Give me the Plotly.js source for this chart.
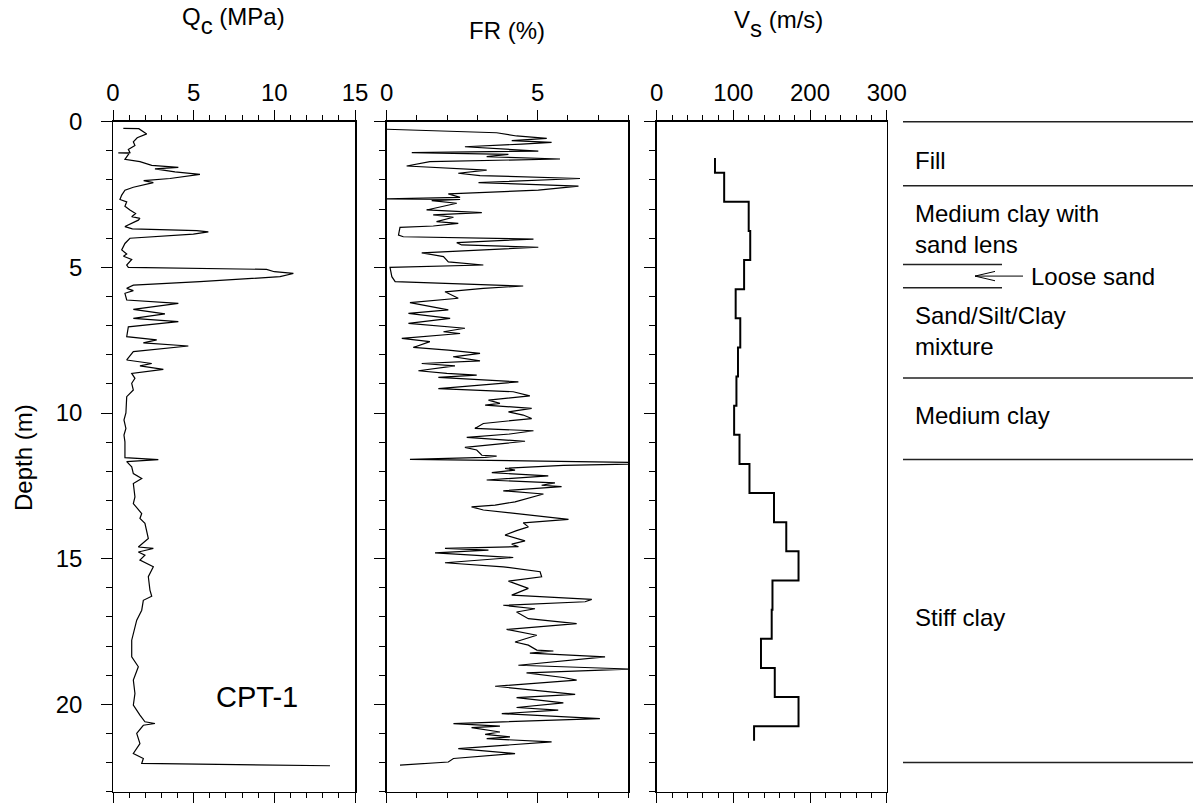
<!DOCTYPE html>
<html><head><meta charset="utf-8">
<script src="https://cdn.plot.ly/plotly-3.0.1.min.js"></script>
<style>html,body{margin:0;padding:0;background:#fff}</style>
</head><body><div id="chart" style="width:1193px;height:805px"></div>
<script>
// ---- Cone resistance Qc (MPa) vs depth (m)
const qcDepth = [0.23,0.24,0.42,0.55,0.69,0.82,0.95,1.06,1.07,1.09,1.29,1.37,1.50,1.57,1.62,1.72,1.81,1.95,2.02,2.09,2.25,2.35,2.52,2.67,2.75,2.90,3.03,3.15,3.26,3.32,3.38,3.60,3.68,3.74,3.78,3.86,4.00,4.18,4.40,4.54,4.62,4.73,4.92,5.00,5.07,5.15,5.21,5.32,5.49,5.61,5.72,5.80,5.89,6.12,6.24,6.44,6.60,6.75,6.86,7.04,7.38,7.49,7.59,7.70,7.89,8.18,8.30,8.38,8.50,8.64,8.81,8.98,9.21,9.44,10.00,10.24,10.53,10.76,10.99,11.53,11.60,11.67,11.85,12.08,12.25,12.42,12.88,13.11,13.45,13.62,13.79,14.14,14.31,14.60,14.65,14.77,14.88,15.05,15.28,15.62,16.08,16.29,16.43,16.77,17.11,17.80,18.37,18.71,19.17,19.63,20.03,20.37,20.60,20.66,20.72,21.00,21.35,21.69,21.86,22.03,22.11];
const qcValue = [0.64,1.60,2.09,1.50,1.26,1.36,0.95,1.05,0.33,1.00,0.74,1.67,2.40,4.05,2.60,3.84,5.39,3.53,1.90,2.50,1.26,0.74,0.54,0.43,0.85,0.74,1.05,1.40,1.16,1.67,1.57,0.74,1.20,5.19,5.91,4.98,1.05,0.74,0.54,0.85,0.65,1.16,0.85,0.95,9.52,10.00,11.18,10.35,5.39,1.26,0.85,1.26,0.74,0.85,4.05,1.26,3.22,1.26,4.05,0.95,0.85,2.71,1.88,4.67,1.26,0.85,2.40,1.67,3.12,1.16,1.36,1.16,1.26,0.85,0.80,0.68,0.80,0.68,0.74,0.74,2.81,0.85,1.16,1.26,1.78,1.26,1.36,1.26,1.78,1.67,1.98,2.09,2.19,1.57,2.50,1.57,1.98,1.67,2.50,2.19,2.29,2.40,1.88,1.78,1.47,1.16,1.16,1.57,1.26,1.36,1.26,1.67,1.98,2.60,1.88,1.47,1.67,1.26,1.88,1.78,13.45];

// ---- Friction ratio FR (%) vs depth (m)
const frDepth = [0.26,0.38,0.49,0.57,0.65,0.71,0.77,0.86,1.01,1.06,1.12,1.20,1.28,1.37,1.52,1.60,1.66,1.77,1.85,1.95,2.09,2.21,2.35,2.48,2.60,2.65,2.67,2.71,2.80,3.03,3.12,3.20,3.28,3.43,3.49,3.58,3.63,3.89,3.95,4.03,4.15,4.23,4.31,4.50,4.63,4.81,4.92,5.00,5.32,5.49,5.64,5.72,5.84,6.06,6.21,6.46,6.58,6.75,6.92,7.09,7.21,7.27,7.44,7.55,7.75,7.84,7.95,8.07,8.21,8.30,8.38,8.55,8.64,8.70,8.78,8.93,9.16,9.27,9.41,9.56,9.67,9.73,9.84,9.96,10.07,10.19,10.36,10.53,10.61,10.72,10.84,10.97,11.18,11.27,11.45,11.48,11.52,11.59,11.72,11.80,11.90,11.96,12.05,12.16,12.30,12.40,12.48,12.53,12.67,12.78,13.05,13.16,13.22,13.33,13.47,13.65,13.77,13.91,14.04,14.19,14.39,14.50,14.59,14.65,14.71,14.80,14.96,15.14,15.28,15.45,15.62,15.77,16.02,16.25,16.40,16.48,16.60,16.72,16.83,17.06,17.23,17.43,17.63,17.86,17.97,18.14,18.17,18.24,18.37,18.66,18.79,18.92,19.08,19.17,19.38,19.66,19.77,19.95,20.11,20.20,20.32,20.49,20.66,20.75,20.80,20.95,21.03,21.12,21.18,21.29,21.52,21.69,21.86,21.98,22.09];
const frValue = [0.00,3.64,4.30,5.30,4.14,5.46,4.47,2.59,5.02,0.83,4.03,3.31,5.74,1.43,0.66,2.04,3.31,2.37,3.09,6.40,3.04,6.35,5.02,2.04,2.43,0.00,2.43,1.49,2.32,1.32,3.15,1.54,2.21,1.65,2.37,1.54,0.44,0.39,0.55,4.86,2.32,2.48,5.02,1.16,1.88,2.04,3.20,0.11,0.17,0.28,4.52,3.20,1.93,2.37,0.77,2.04,0.72,2.10,0.72,2.59,1.88,2.43,0.50,1.43,0.88,2.04,3.09,2.20,3.09,1.16,2.26,1.05,1.99,2.98,1.71,4.36,1.71,4.19,4.74,3.37,3.75,3.26,4.80,4.03,4.52,4.80,3.20,2.92,4.86,4.08,2.65,4.58,2.59,2.98,3.15,3.64,3.26,0.77,10.00,5.85,3.92,4.25,3.48,5.35,3.31,5.57,5.13,5.79,3.86,5.19,4.25,3.59,2.81,3.20,4.36,6.02,4.52,4.69,4.30,3.92,4.58,4.14,4.36,1.93,3.37,1.60,4.19,1.93,3.86,5.08,5.13,4.03,4.69,4.14,6.79,6.57,3.86,4.91,4.30,4.69,6.29,3.97,4.97,4.25,4.69,4.97,5.52,4.74,7.23,4.36,8.10,4.63,5.85,6.29,3.59,6.24,4.30,5.85,4.30,5.68,3.81,7.06,2.21,3.75,2.81,3.75,3.26,4.08,3.31,5.46,2.37,4.25,2.21,2.04,0.44];

// ---- Shear wave velocity Vs (m/s): layer top depths (m) and velocities
const vsDepth = [1.25,1.75,2.75,3.75,4.75,5.75,6.75,7.75,8.75,9.75,10.75,11.75,12.75,13.75,14.75,15.75,16.75,17.75,18.75,19.75,20.75,21.25];
const vsValue = [76,88,120,122,114,103,109,106,104,101,108,121,153,169,185,151,150,136,154,185,127];

// ---- Soil layers
const layerNames = ["Fill","Medium clay with<br>sand lens","Loose sand","Sand/Silt/Clay<br>mixture","Medium clay","Stiff clay"];
const layerTop = [0,2.2,4.9,5.7,8.8,11.6];
const layerBottom = [2.2,4.9,5.7,8.8,11.6,22.0];

const probeName = "CPT-1";
const depthRange = [23,0];

// ---- build
const W=1193, H=805;
const px = v => v/W, py = v => 1 - v/H;
const FONT = 'Arial, "Liberation Sans", sans-serif';
const FS = 24;
const yTopPx = 121.7, yBotPx = 791.7;
const yDom = [py(yBotPx), py(yTopPx)];
const pxPerM = (yBotPx - yTopPx)/(depthRange[0]-depthRange[1]);

const vsX = vsValue.concat([vsValue[vsValue.length-1]]);

const traces = [
  {x:qcValue, y:qcDepth, xaxis:'x', yaxis:'y', mode:'lines', line:{color:'#000', width:1.2}, hoverinfo:'skip'},
  {x:frValue, y:frDepth, xaxis:'x2', yaxis:'y2', mode:'lines', line:{color:'#000', width:1.2}, hoverinfo:'skip'},
  {x:vsX, y:vsDepth, xaxis:'x3', yaxis:'y3', mode:'lines', line:{color:'#000', width:2, shape:'vh'}, hoverinfo:'skip'}
];

function xAxis(dom, range, dtick, mdt, anchor){
  return {domain:dom, range:range, anchor:anchor, side:'top', tick0:0, dtick:dtick,
    ticks:'outside', ticklen:10, tickwidth:1, tickcolor:'#000',
    minor:{tick0:0, dtick:mdt, ticks:'outside', ticklen:5, tickwidth:1, tickcolor:'#000', showgrid:false},
    showline:true, linecolor:'#000', linewidth:1.5, mirror:'ticks',
    showgrid:false, zeroline:false, fixedrange:true,
    tickfont:{family:FONT, size:FS, color:'#000'}};
}
function yAxis(anchor, labels){
  return {domain:yDom, range:depthRange, anchor:anchor, tick0:0, dtick:5,
    ticks:'outside', ticklen:11, tickwidth:1, tickcolor:'#000', ticksuffix:'\u00a0\u00a0',
    minor:{tick0:0, dtick:1, ticks:'outside', ticklen:6, tickwidth:1, tickcolor:'#000', showgrid:false},
    showline:true, linecolor:'#000', linewidth:1.5, mirror:true,
    showgrid:false, zeroline:false, fixedrange:true, showticklabels:labels,
    tickfont:{family:FONT, size:FS, color:'#000'}};
}

// layer panel: extend domain a little above depth 0 so the top line is not clipped
const padPx = 10, padM = padPx/pxPerM;
const layout = {
  width:W, height:H, margin:{l:0,r:0,t:0,b:0}, paper_bgcolor:'#fff', plot_bgcolor:'#fff',
  showlegend:false, font:{family:FONT, size:FS, color:'#000'},
  xaxis: xAxis([px(113), px(355)], [0,15], 5, 1, 'y'),
  yaxis: yAxis('x', true),
  xaxis2: xAxis([px(386.7), px(628.3)], [0,8], 5, 1, 'y2'),
  yaxis2: yAxis('x2', false),
  xaxis3: xAxis([px(656.7), px(886.7)], [0,300], 100, 20, 'y3'),
  yaxis3: yAxis('x3', false),
  xaxis4: {domain:[px(903), 1], range:[0,290], anchor:'y4', visible:false, fixedrange:true},
  yaxis4: {domain:[py(yBotPx), py(yTopPx-padPx)], range:[depthRange[0], depthRange[1]-padM], anchor:'x4', visible:false, fixedrange:true},
  shapes: [],
  annotations: []
};

// layer boundary lines
const bounds = [layerTop[0]].concat(layerBottom);
const shortIdx = 2; // loose sand layer: short lines
bounds.forEach((d,i)=>{
  const isShort = (d===layerTop[shortIdx] || d===layerBottom[shortIdx]);
  layout.shapes.push({type:'line', xref:'x4', yref:'y4', x0:0, x1:isShort?99:290, y0:d, y1:d,
    line:{color:'#222', width:1.5}});
});
// arrow for loose sand
const lsMid = (layerTop[shortIdx]+layerBottom[shortIdx])/2;
layout.shapes.push({type:'line', xref:'x4', yref:'y4', x0:72, x1:120, y0:lsMid, y1:lsMid, line:{color:'#000', width:1}});
layout.shapes.push({type:'line', xref:'x4', yref:'y4', x0:72, x1:92, y0:lsMid, y1:lsMid-0.16, line:{color:'#000', width:1}});
layout.shapes.push({type:'line', xref:'x4', yref:'y4', x0:72, x1:92, y0:lsMid, y1:lsMid+0.16, line:{color:'#000', width:1}});

// layer labels
const labelShift = [-7,-4,0,2,3,-6];
layerNames.forEach((name,i)=>{
  const mid = (layerTop[i]+layerBottom[i])/2;
  layout.annotations.push({xref:'x4', yref:'y4', x: i===shortIdx?126:10, y:mid, yshift:labelShift[i],
    text:name, showarrow:false, xanchor:'left', yanchor:'middle', align:'left',
    font:{family:FONT, size:FS, color:'#000'}});
});

// panel titles
layout.annotations.push({xref:'paper', yref:'paper', x:px(233), y:py(21), xanchor:'center', yanchor:'middle', showarrow:false,
  text:'Q<sub><sub><span style="font-size:24px">c</span></sub></sub> (MPa)', font:{family:FONT, size:FS, color:'#000'}});
layout.annotations.push({xref:'paper', yref:'paper', x:px(507), y:py(31), xanchor:'center', yanchor:'middle', showarrow:false,
  text:'FR (%)', font:{family:FONT, size:FS, color:'#000'}});
layout.annotations.push({xref:'paper', yref:'paper', x:px(778), y:py(24), xanchor:'center', yanchor:'middle', showarrow:false,
  text:'V<sub><sub><span style="font-size:24px">s</span></sub></sub> (m/s)', font:{family:FONT, size:FS, color:'#000'}});
layout.annotations.push({xref:'paper', yref:'paper', x:px(23), y:py(458), xanchor:'center', yanchor:'middle', showarrow:false,
  textangle:-90, text:'Depth (m)', font:{family:FONT, size:FS, color:'#000'}});
// probe name
layout.annotations.push({xref:'x', yref:'y', x:8.9, y:19.75, xanchor:'center', yanchor:'middle', showarrow:false,
  text:probeName, font:{family:FONT, size:29, color:'#000'}});

Plotly.newPlot('chart', traces, layout, {staticPlot:true, displayModeBar:false});
</script></body></html>
